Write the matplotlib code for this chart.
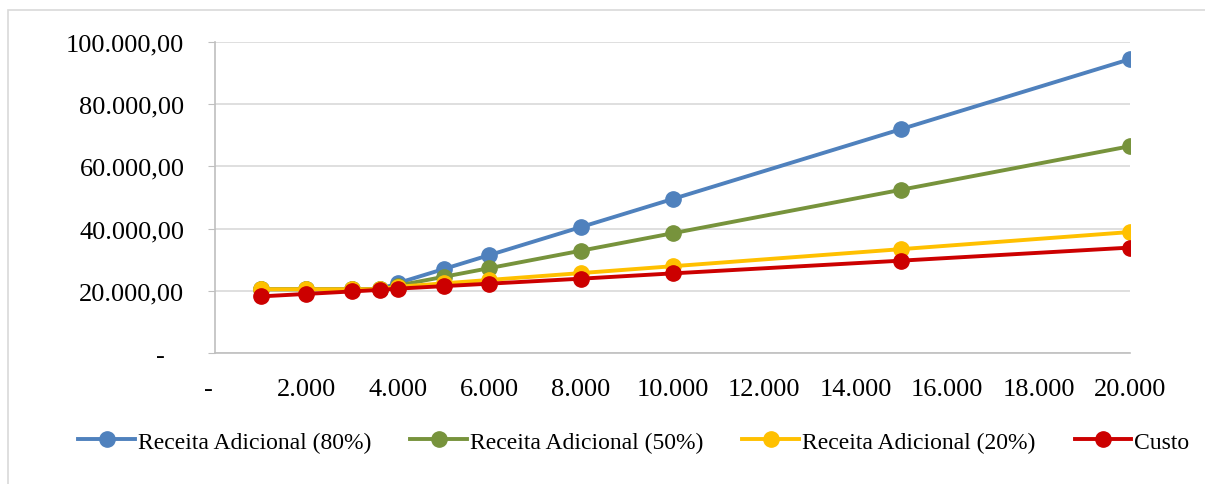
import matplotlib.pyplot as plt
from matplotlib.ticker import FuncFormatter
from matplotlib.patches import Rectangle

plt.rcParams['font.family'] = ['Liberation Serif', 'DejaVu Serif']

# volumes (units) and values (R$)
volume = [1000, 2000, 3000, 3600, 4000, 5000, 6000, 8000, 10000, 15000, 20000]
receita_80 = [20500, 20500, 20500, 20500, 22500, 27000, 31500, 40500, 49500, 72000, 94500]
receita_50 = [20500, 20500, 20500, 20500, 21700, 24500, 27300, 32900, 38500, 52500, 66500]
receita_20 = [20500, 20500, 20500, 20500, 21300, 22400, 23500, 25700, 27900, 33400, 38900]
custo = [18200, 19000, 19800, 20300, 20700, 21500, 22300, 23900, 25600, 29700, 33900]

series = [
    ('Receita Adicional (80%)', receita_80, '#4F81BD'),
    ('Receita Adicional (50%)', receita_50, '#77933C'),
    ('Receita Adicional (20%)', receita_20, '#FFC000'),
    ('Custo', custo, '#CC0000'),
]

fig = plt.figure(figsize=(12.05, 4.85), dpi=100)
ax = fig.add_axes([0.1784, 0.2701, 0.7594, 0.6412])

for name, vals, color in series:
    ax.plot(volume, vals, color=color, lw=2.8, marker='o', ms=11, label=name)

def br(v, decimals, zero='-'):
    if abs(v) < 1e-9:
        return zero
    s = f'{v:,.{decimals}f}'
    return s.replace(',', 'X').replace('.', ',').replace('X', '.')

ax.set_xlim(0, 20000)
ax.set_ylim(0, 100000)
ax.set_xticks(range(0, 20001, 2000))
ax.set_yticks(range(0, 100001, 20000))
ax.xaxis.set_major_formatter(FuncFormatter(lambda v, p: br(v, 0, '-  ')))
ax.yaxis.set_major_formatter(FuncFormatter(lambda v, p: br(v, 2, '-   ')))
ax.tick_params(axis='y', labelsize=19, length=5, color='#BFBFBF', pad=17)
ax.tick_params(axis='x', labelsize=19, length=0, pad=18)

ax.grid(axis='y', color='#D9D9D9', lw=1.2)
ax.set_axisbelow(True)
for s in ['top', 'right']:
    ax.spines[s].set_visible(False)
for s in ['left', 'bottom']:
    ax.spines[s].set_color('#BFBFBF')
    ax.spines[s].set_linewidth(1.2)

fig.legend(loc='center', bbox_to_anchor=(0.526, 0.087), ncol=4, frameon=False,
           fontsize=17, handlelength=2.4, handletextpad=0.13, columnspacing=1.65)

fig.add_artist(Rectangle((8 / 1205, -0.01), 1.0, 1 - 11 / 485 + 0.01,
                         transform=fig.transFigure, fill=False,
                         edgecolor='#D9D9D9', lw=1.2))

fig.savefig('out.png', dpi=100)
